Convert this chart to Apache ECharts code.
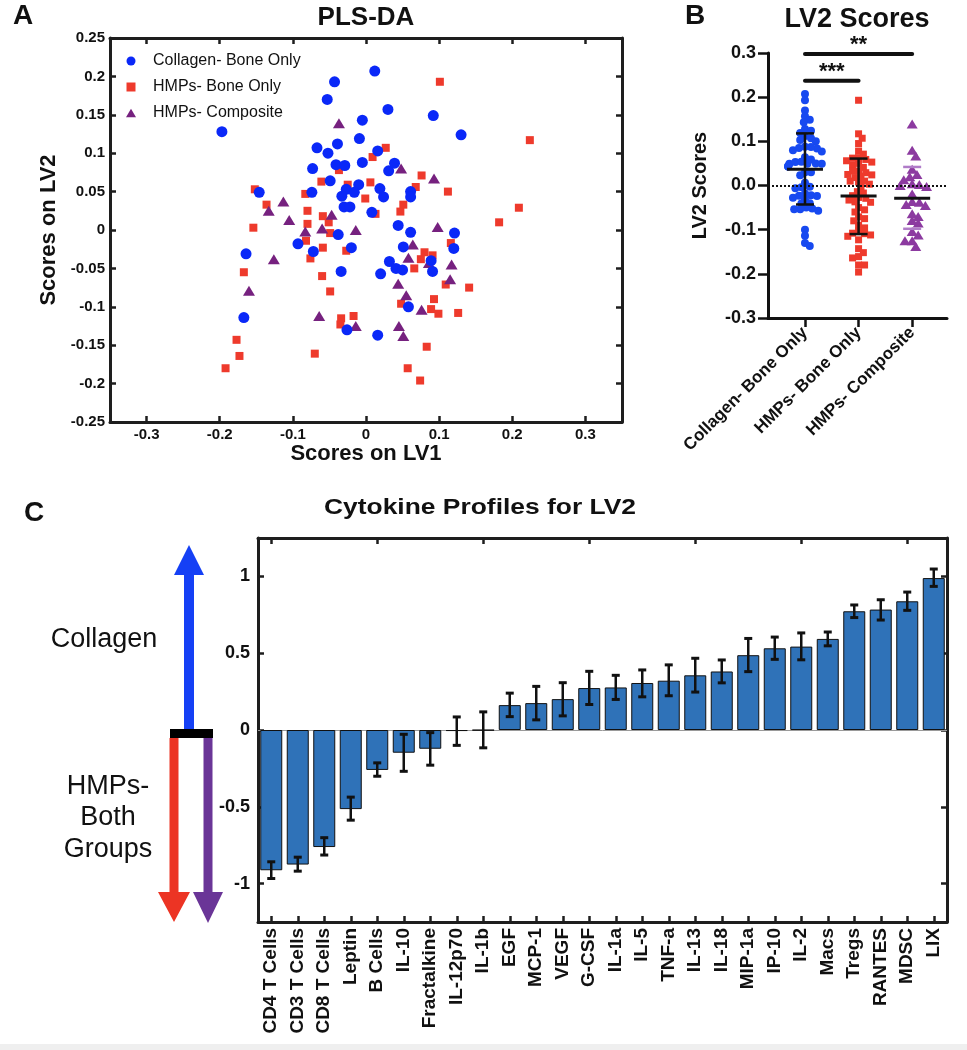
<!DOCTYPE html>
<html><head><meta charset="utf-8">
<script src="https://cdn.jsdelivr.net/npm/echarts@6/dist/echarts.min.js"></script>
<style>html,body{margin:0;padding:0;background:#fff}#c{width:967px;height:1050px}</style>
</head><body><div id="c"></div>
<script>
// ---------- Panel A : PLS-DA scores ----------
const collagenX = [-0.197,0.012,-0.043,-0.053,0.030,0.092,0.130,-0.005,-0.009,-0.039,-0.067,-0.052,0.016,-0.073,-0.041,-0.029,-0.005,0.031,0.039,-0.049,-0.074,-0.146,-0.010,-0.027,-0.033,-0.016,0.019,0.024,0.061,0.061,-0.030,-0.022,0.008,0.044,0.061,0.121,-0.038,-0.093,-0.072,-0.020,0.051,0.120,-0.164,0.032,0.041,0.050,0.089,0.091,-0.034,0.020,0.058,-0.167,-0.026,0.016];
const collagenY = [0.128,0.207,0.193,0.170,0.157,0.149,0.124,0.143,0.119,0.112,0.107,0.100,0.103,0.080,0.085,0.084,0.088,0.077,0.087,0.064,0.049,0.049,0.059,0.053,0.044,0.049,0.054,0.043,0.050,0.043,0.030,0.030,0.023,0.006,-0.003,-0.004,-0.006,-0.018,-0.028,-0.023,-0.022,-0.024,-0.031,-0.041,-0.050,-0.052,-0.040,-0.054,-0.054,-0.057,-0.100,-0.114,-0.130,-0.137];
const hmpBoneX = [0.101,0.027,0.009,-0.037,0.076,0.112,0.068,0.006,-0.061,-0.025,-0.152,-0.083,-0.001,-0.136,-0.080,0.051,0.047,-0.059,0.013,-0.080,-0.051,-0.154,-0.049,-0.082,0.116,-0.059,-0.027,-0.076,0.080,0.091,0.075,0.066,-0.167,-0.060,0.109,0.141,-0.049,0.093,0.048,0.089,0.099,0.126,-0.034,-0.017,-0.035,-0.177,-0.173,-0.192,-0.070,0.083,0.057,0.074,0.182,0.209,0.224];
const hmpBoneY = [0.193,0.107,0.095,0.078,0.071,0.050,0.056,0.062,0.063,0.059,0.053,0.047,0.041,0.033,0.025,0.033,0.024,0.018,0.021,0.008,0.010,0.003,-0.004,-0.014,-0.017,-0.023,-0.027,-0.037,-0.029,-0.033,-0.038,-0.050,-0.055,-0.060,-0.071,-0.075,-0.080,-0.090,-0.096,-0.103,-0.109,-0.108,-0.115,-0.112,-0.123,-0.143,-0.164,-0.180,-0.161,-0.152,-0.180,-0.196,0.010,0.029,0.117];
const hmpCompX = [-0.037,0.048,0.093,-0.113,-0.133,-0.105,-0.047,-0.083,-0.060,-0.014,0.098,0.064,0.058,0.117,0.086,-0.126,-0.160,0.044,0.115,0.055,0.076,-0.064,-0.014,0.045,0.051];
const hmpCompY = [0.139,0.080,0.067,0.037,0.025,0.013,0.020,-0.002,0.002,0.000,0.004,-0.019,-0.036,-0.045,-0.043,-0.038,-0.079,-0.070,-0.064,-0.085,-0.104,-0.112,-0.125,-0.125,-0.138];
const ticksLV1 = [-0.3,-0.2,-0.1,0,0.1,0.2,0.3];
const ticksLV2 = [-0.25,-0.2,-0.15,-0.1,-0.05,0,0.05,0.1,0.15,0.2,0.25];

// ---------- Panel B : LV2 scores per group ----------
const groupNames = ['Collagen- Bone Only','HMPs- Bone Only','HMPs- Composite'];
const groupMeans = [0.037,-0.024,-0.029];
const groupSdLow = [-0.043,-0.110,-0.098];
const groupSdHigh = [0.118,0.061,0.042];
const sigFrom = [0,0];
const sigTo = [1,2];
const sigY = [0.237,0.298];
const sigLabels = ['***','**'];
const ticksB = [-0.3,-0.2,-0.1,0,0.1,0.2,0.3];

// ---------- Panel C : cytokine loadings ----------
const cytokines = ['CD4 T Cells','CD3 T Cells','CD8 T Cells','Leptin','B Cells','IL-10','Fractalkine','IL-12p70','IL-1b','EGF','MCP-1','VEGF','G-CSF','IL-1a','IL-5','TNF-a','IL-13','IL-18','MIP-1a','IP-10','IL-2','Macs','Tregs','RANTES','MDSC','LIX'];
const loadings = [-0.913,-0.876,-0.762,-0.515,-0.260,-0.148,-0.122,-0.007,-0.002,0.162,0.175,0.201,0.273,0.277,0.306,0.321,0.356,0.381,0.487,0.532,0.543,0.593,0.773,0.784,0.838,0.989];
const loadLow  = [-0.967,-0.919,-0.814,-0.587,-0.301,-0.269,-0.229,-0.100,-0.116,0.087,0.066,0.092,0.166,0.199,0.216,0.223,0.247,0.307,0.380,0.460,0.457,0.548,0.732,0.716,0.779,0.935];
const loadHigh = [-0.858,-0.828,-0.701,-0.437,-0.214,-0.028,-0.017,0.085,0.118,0.240,0.284,0.308,0.382,0.356,0.391,0.424,0.467,0.456,0.596,0.605,0.632,0.638,0.814,0.848,0.898,1.048];
const ticksC = [-1,-0.5,0,0.5,1];

const F = '"Liberation Sans", Arial, Helvetica, sans-serif';
const BLUE = '#0a28f8', RED = '#ee3a2c', PURPLE = '#76217f', PURPLE_B = '#8c3aa0';
const AX = '#1e1e1e';

const zip = (a,b) => a.map((v,i)=>[v,b[i]]);

// deterministic beeswarm layout (pixel-space collision avoidance)
function swarm(values, center, dPx, pxPerX, pxPerY) {
  const order = values.map((v,i)=>i).sort((a,b)=>values[b]-values[a]);
  const placed = []; const out = new Array(values.length);
  order.forEach(i => {
    const yp = values[i]*pxPerY;
    let best = 0;
    for (let k=0;k<40;k++){
      const cand = (k%2===1?1:-1)*Math.ceil(k/2)*1.2;
      if (Math.abs(cand) > 17) break;
      if (placed.every(p => (p[0]-cand)**2 + (p[1]-yp)**2 >= dPx*dPx)) { best = cand; break; }
      best = cand;
    }
    placed.push([best, yp]);
    out[i] = [center + best/pxPerX, values[i]];
  });
  return out;
}
const BX_PX = 179/3.34, BY_PX = 265/0.6;

const fmtA = v => String(Math.round(v*100)/100);

function frameAxis(extra) {
  return Object.assign({
    axisLine:{show:true,onZero:false,lineStyle:{color:AX,width:3}},
    splitLine:{show:false}
  }, extra);
}

const option = {
  animation:false,
  backgroundColor:'#fff',
  textStyle:{fontFamily:F},
  grid:[
    {left:110, top:38, width:512, height:384},
    {left:768, top:53, width:179, height:265},
    {left:258, top:538, width:689, height:384}
  ],
  legend:{
    left:121, top:48, orient:'vertical', selectedMode:false,
    itemWidth:10, itemHeight:9, itemGap:10,
    textStyle:{fontSize:16, fontFamily:F, color:'#111', padding:[0,0,0,12]},
    data:[{name:'Collagen- Bone Only',icon:'circle'},
          {name:'HMPs- Bone Only',icon:'path://M0,0L10,0L10,10L0,10Z'},
          {name:'HMPs- Composite',icon:'path://M6,0L12,10L0,10Z'}]
  },
  xAxis:[
    frameAxis({gridIndex:0, type:'value', min:-0.35, max:0.35, position:'bottom',
      name:'Scores on LV1', nameLocation:'middle', nameGap:21,
      nameTextStyle:{fontSize:22, fontWeight:'bold', color:'#111', fontFamily:F},
      axisTick:{show:true, inside:true, length:6, lineStyle:{color:AX,width:2.5}, customValues:ticksLV1},
      axisLabel:{customValues:ticksLV1, formatter:fmtA, fontSize:15, fontWeight:'bold', color:'#111', margin:5, fontFamily:F}}),
    frameAxis({gridIndex:0, type:'value', min:-0.35, max:0.35, position:'top',
      axisTick:{show:true, inside:true, length:6, lineStyle:{color:AX,width:2.5}, customValues:ticksLV1},
      axisLabel:{show:false}}),
    frameAxis({gridIndex:1, type:'value', min:-0.69, max:2.65, position:'bottom',
      axisLine:{show:true,onZero:false,lineStyle:{color:'#111',width:3}},
      axisTick:{show:true, inside:false, length:9, lineStyle:{color:'#111',width:2.5}, customValues:[0,1,2]},
      axisLabel:{customValues:[0,1,2], formatter:v=>groupNames[Math.round(v)], rotate:45, fontSize:17, fontWeight:'bold', color:'#111', margin:12, fontFamily:F}}),
    frameAxis({gridIndex:2, type:'category', data:cytokines, position:'bottom',
      axisTick:{show:true, inside:true, alignWithLabel:true, length:6, lineStyle:{color:AX,width:2.5}},
      axisLabel:{rotate:90, interval:0, fontSize:19, fontWeight:'bold', color:'#111', margin:6, fontFamily:F}}),
    frameAxis({gridIndex:2, type:'category', data:cytokines, position:'top',
      axisTick:{show:true, inside:true, alignWithLabel:true, length:6, lineStyle:{color:AX,width:2.5}},
      axisLabel:{show:false}})
  ],
  yAxis:[
    frameAxis({gridIndex:0, type:'value', min:-0.25, max:0.25, position:'left',
      name:'Scores on LV2', nameLocation:'middle', nameGap:36, nameRotate:90,
      nameTextStyle:{fontSize:22, fontWeight:'bold', color:'#111', fontFamily:F},
      axisTick:{show:true, inside:true, length:6, lineStyle:{color:AX,width:2.5}, customValues:ticksLV2},
      axisLabel:{customValues:ticksLV2, formatter:fmtA, fontSize:15, fontWeight:'bold', color:'#111', margin:5, fontFamily:F}}),
    frameAxis({gridIndex:0, type:'value', min:-0.25, max:0.25, position:'right',
      axisTick:{show:true, inside:true, length:6, lineStyle:{color:AX,width:2.5}, customValues:ticksLV2},
      axisLabel:{show:false}}),
    frameAxis({gridIndex:1, type:'value', min:-0.3, max:0.3, position:'left',
      name:'LV2 Scores', nameLocation:'middle', nameGap:58, nameRotate:90,
      nameTextStyle:{fontSize:20, fontWeight:'bold', color:'#111', fontFamily:F},
      axisLine:{show:true,onZero:false,lineStyle:{color:'#111',width:3}},
      axisTick:{show:true, inside:false, length:10, lineStyle:{color:'#111',width:2.5}, customValues:ticksB},
      axisLabel:{customValues:ticksB, formatter:v=>v.toFixed(1), fontSize:18, fontWeight:'bold', color:'#111', margin:12, fontFamily:F}}),
    frameAxis({gridIndex:2, type:'value', min:-1.25, max:1.25, position:'left',
      axisTick:{show:true, inside:true, length:6, lineStyle:{color:AX,width:2.5}, customValues:ticksC},
      axisLabel:{customValues:ticksC, formatter:v=>String(v), fontSize:18, fontWeight:'bold', color:'#111', margin:8, fontFamily:F}}),
    frameAxis({gridIndex:2, type:'value', min:-1.25, max:1.25, position:'right',
      axisTick:{show:true, inside:true, length:6, lineStyle:{color:AX,width:2.5}, customValues:ticksC},
      axisLabel:{show:false}})
  ],
  series:[
    // Panel A
    {name:'HMPs- Bone Only', type:'scatter', xAxisIndex:0, yAxisIndex:0, symbol:'rect', symbolSize:8,
      itemStyle:{color:RED, opacity:1}, data:zip(hmpBoneX,hmpBoneY)},
    {name:'HMPs- Composite', type:'scatter', xAxisIndex:0, yAxisIndex:0, symbol:'triangle', symbolSize:[12,10],
      itemStyle:{color:PURPLE, opacity:1}, data:zip(hmpCompX,hmpCompY)},
    {name:'Collagen- Bone Only', type:'scatter', xAxisIndex:0, yAxisIndex:0, symbol:'circle', symbolSize:11,
      itemStyle:{color:BLUE, opacity:1}, data:zip(collagenX,collagenY)},
    // Panel B
    {name:'B collagen', type:'scatter', xAxisIndex:2, yAxisIndex:2, symbol:'circle', symbolSize:8,
      itemStyle:{color:'#1749f0', opacity:1}, data:swarm(collagenY,0,5.5,BX_PX,BY_PX),
      markLine:{silent:true, symbol:'none', label:{show:false}, lineStyle:{color:'#111', width:2, type:'dotted'}, data:[{yAxis:0}]}},
    {name:'B hmp bone', type:'scatter', xAxisIndex:2, yAxisIndex:2, symbol:'rect', symbolSize:7,
      itemStyle:{color:RED, opacity:1}, data:swarm(hmpBoneY,1,5.5,BX_PX,BY_PX)},
    {name:'B hmp comp', type:'scatter', xAxisIndex:2, yAxisIndex:2, symbol:'triangle', symbolSize:[11,9],
      itemStyle:{color:PURPLE_B, opacity:1}, data:swarm(hmpCompY,2,6.5,BX_PX,BY_PX)},
    {name:'B summary', type:'custom', xAxisIndex:2, yAxisIndex:2, z:5,
      data:groupMeans.map((m,i)=>[i,m,groupSdLow[i],groupSdHigh[i]]),
      encode:{x:0,y:[1,2,3]},
      renderItem:(params,api)=>{
        const i=api.value(0);
        const pm=api.coord([i,api.value(1)]), pl=api.coord([i,api.value(2)]), ph=api.coord([i,api.value(3)]);
        const errCol = i===2 ? '#b07cc8' : '#111';
        const ch=[];
        if(i!==2) ch.push({type:'line',shape:{x1:pl[0],y1:pl[1],x2:ph[0],y2:ph[1]},style:{stroke:errCol,lineWidth:2.5}});
        ch.push({type:'line',shape:{x1:pl[0]-9,y1:pl[1],x2:pl[0]+9,y2:pl[1]},style:{stroke:errCol,lineWidth:2.5}});
        ch.push({type:'line',shape:{x1:ph[0]-9,y1:ph[1],x2:ph[0]+9,y2:ph[1]},style:{stroke:errCol,lineWidth:2.5}});
        ch.push({type:'line',shape:{x1:pm[0]-18,y1:pm[1],x2:pm[0]+18,y2:pm[1]},style:{stroke:'#111',lineWidth:3}});
        return {type:'group',children:ch};
      }},
    {name:'B significance', type:'custom', xAxisIndex:2, yAxisIndex:2, z:5,
      data:sigFrom.map((s,i)=>[s,sigTo[i],sigY[i]]),
      encode:{x:[0,1],y:2},
      renderItem:(params,api)=>{
        const a=api.coord([api.value(0),api.value(2)]), b=api.coord([api.value(1),api.value(2)]);
        return {type:'group',children:[
          {type:'line',shape:{x1:a[0],y1:a[1],x2:b[0],y2:b[1]},style:{stroke:'#111',lineWidth:4,lineCap:'round'}},
          {type:'text',x:(a[0]+b[0])/2,y:a[1]-20,style:{text:sigLabels[params.dataIndex],fill:'#111',font:'bold 22px '+F,align:'center',verticalAlign:'top'}}
        ]};
      }},
    // Panel C
    {name:'Loadings', type:'bar', xAxisIndex:3, yAxisIndex:3, barWidth:22, z:2,
      itemStyle:{color:'#2f72b8', borderColor:'#111', borderWidth:1},
      data:loadings,
      markLine:{silent:true, symbol:'none', label:{show:false}, z:1, lineStyle:{color:'#9a9a9a', width:1, type:'solid'}, data:[{yAxis:0}]}},
    {name:'Loading error', type:'custom', xAxisIndex:3, yAxisIndex:3, z:4,
      data:cytokines.map((c,i)=>[i,loadLow[i],loadHigh[i]]),
      encode:{x:0,y:[1,2]},
      renderItem:(params,api)=>{
        const i=api.value(0);
        const lo=api.coord([i,api.value(1)]), hi=api.coord([i,api.value(2)]);
        const hw=4;
        return {type:'group',children:[
          {type:'line',shape:{x1:lo[0],y1:lo[1],x2:hi[0],y2:hi[1]},style:{stroke:'#111',lineWidth:2.5}},
          {type:'line',shape:{x1:lo[0]-hw,y1:lo[1],x2:lo[0]+hw,y2:lo[1]},style:{stroke:'#111',lineWidth:3}},
          {type:'line',shape:{x1:hi[0]-hw,y1:hi[1],x2:hi[0]+hw,y2:hi[1]},style:{stroke:'#111',lineWidth:3}}
        ]};
      }}
  ],
  graphic:[
    {type:'text', x:23, y:16, style:{text:'A', font:'bold 28px '+F, fill:'#111', align:'center', verticalAlign:'middle'}},
    {type:'text', x:366, y:18, style:{text:'PLS-DA', font:'bold 26px '+F, fill:'#111', align:'center', verticalAlign:'middle'}},
    {type:'text', x:695, y:16, style:{text:'B', font:'bold 28px '+F, fill:'#111', align:'center', verticalAlign:'middle'}},
    {type:'text', x:857, y:20, style:{text:'LV2 Scores', font:'bold 27px '+F, fill:'#111', align:'center', verticalAlign:'middle'}},
    {type:'text', x:34, y:513, style:{text:'C', font:'bold 28px '+F, fill:'#111', align:'center', verticalAlign:'middle'}},
    {type:'text', x:600, y:508, scaleX:1.2, originX:600, originY:508, style:{text:'Cytokine Profiles for LV2', font:'bold 22px '+F, fill:'#111', align:'center', verticalAlign:'middle'}},
    {type:'text', x:104, y:640, style:{text:'Collagen', font:'27px '+F, fill:'#111', align:'center', verticalAlign:'middle'}},
    {type:'text', x:108, y:787, style:{text:'HMPs-', font:'27px '+F, fill:'#111', align:'center', verticalAlign:'middle'}},
    {type:'text', x:108, y:818, style:{text:'Both', font:'27px '+F, fill:'#111', align:'center', verticalAlign:'middle'}},
    {type:'text', x:108, y:850, style:{text:'Groups', font:'27px '+F, fill:'#111', align:'center', verticalAlign:'middle'}},
    {type:'polygon', shape:{points:[[184,729],[184,575],[174,575],[189,545],[204,575],[194,575],[194,729]]}, style:{fill:'#1540f5'}},
    {type:'polygon', shape:{points:[[169.5,738],[169.5,892],[158,892],[174,922],[190,892],[178.5,892],[178.5,738]]}, style:{fill:'#ec3424'}},
    {type:'polygon', shape:{points:[[203.5,738],[203.5,892],[193,892],[208,923],[223,892],[212.5,892],[212.5,738]]}, style:{fill:'#6a3597'}},
    {type:'rect', shape:{x:170, y:729, width:43, height:9}, style:{fill:'#000'}},
    {type:'rect', shape:{x:0, y:1044, width:967, height:6}, style:{fill:'#efefef'}}
  ]
};
echarts.init(document.getElementById('c'), null, {renderer:'canvas'}).setOption(option);
</script>
</body></html>
